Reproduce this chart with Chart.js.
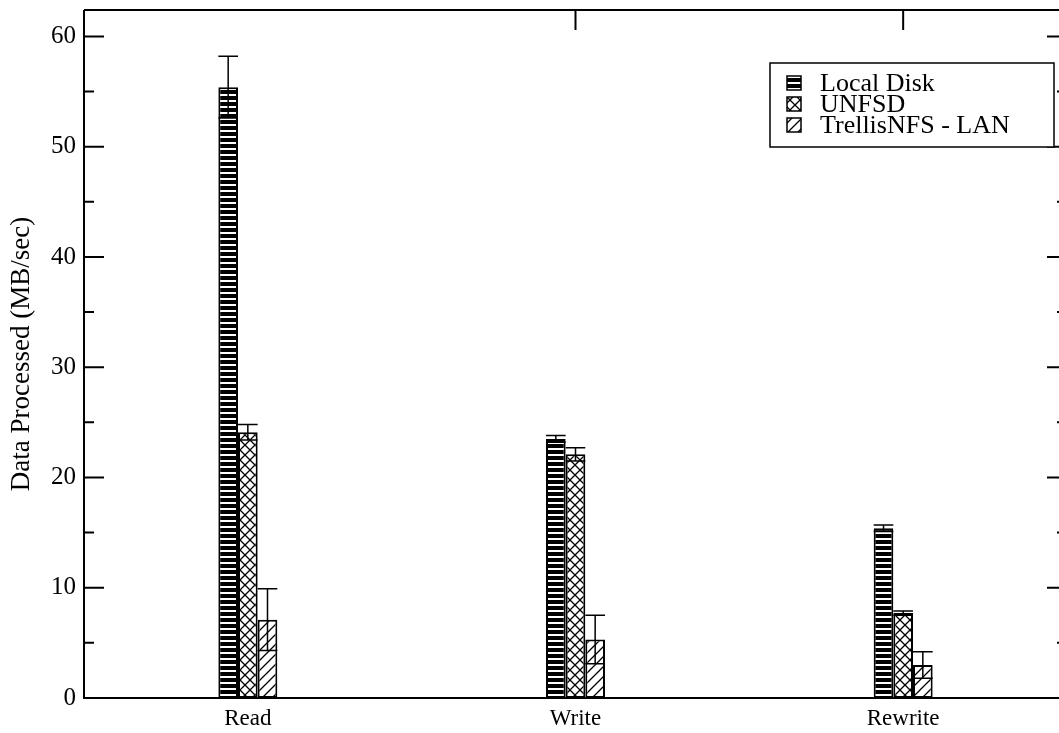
<!DOCTYPE html>
<html>
<head>
<meta charset="utf-8">
<script src="https://cdn.jsdelivr.net/npm/chart.js@4.4.1/dist/chart.umd.min.js"></script>
<style>
html, body { margin: 0; background: #fff; overflow: hidden; }
</style>
</head>
<body>
<!-- plot frame runs a little past the right edge of the window, as in the scan -->
<canvas id="benchChart" width="1067" height="733"></canvas>
<script>
// values (MB/sec), errors are +/- half ranges
const categories = ['Read', 'Write', 'Rewrite'];
const seriesNames = ['Local Disk', 'UNFSD', 'TrellisNFS - LAN'];
const localDisk = [55.4, 23.5, 15.4];
const localDiskErr = [2.8, 0.3, 0.3];
const unfsd = [24.1, 22.1, 7.7];
const unfsdErr = [0.7, 0.6, 0.2];
const trellis = [7.1, 5.3, 3.0];
const trellisErr = [2.8, 2.2, 1.2];
const yTicks = [0, 10, 20, 30, 40, 50, 60];
const yMax = 62.4;

const FONT = 'Liberation Serif';
const ctx = document.getElementById('benchChart');

function makePattern(kind) {
    const c = document.createElement('canvas');
    const s = kind === 'stripes' ? 6 : 10;
    c.width = s;
    c.height = s;
    const g = c.getContext('2d');
    g.fillStyle = '#fff';
    g.fillRect(0, 0, s, s);
    g.strokeStyle = '#000';
    g.fillStyle = '#000';
    g.lineWidth = 1.3;
    if (kind === 'stripes') {
        g.fillRect(0, 0, s, 4);
    } else if (kind === 'cross') {
        g.beginPath();
        g.moveTo(0, 0); g.lineTo(s, s);
        g.moveTo(s, 0); g.lineTo(0, s);
        g.stroke();
    } else {
        g.beginPath();
        g.moveTo(0, s); g.lineTo(s, 0);
        g.moveTo(-1, 1); g.lineTo(1, -1);
        g.moveTo(s - 1, s + 1); g.lineTo(s + 1, s - 1);
        g.stroke();
    }
    return g.createPattern(c, 'repeat');
}

//error bars: line from low to high with a cap at each end
const errorBars = {
    id: 'errorBars',
    afterDatasetsDraw(chart) {
        const c = chart.ctx;
        const y = chart.scales.y;
        c.save();
        c.strokeStyle = '#000';
        c.lineWidth = 1.5;
        chart.data.datasets.forEach((ds, i) => {
            chart.getDatasetMeta(i).data.forEach((bar, j) => {
                const v = ds.data[j];
                const e = ds.errors[j];
                const hi = y.getPixelForValue(v + e);
                const lo = y.getPixelForValue(v - e);
                const half = bar.width / 2;
                c.beginPath();
                c.moveTo(bar.x, lo); c.lineTo(bar.x, hi);
                c.moveTo(bar.x - half, hi); c.lineTo(bar.x + half, hi);
                c.moveTo(bar.x - half, lo); c.lineTo(bar.x + half, lo);
                c.stroke();
            });
        });
        c.restore();
    }
};

//box round the plot with ticks pointing inward
const frame = {
    id: 'frame',
    afterDatasetsDraw(chart) {
        const c = chart.ctx;
        const a = chart.chartArea;
        const { x, y } = chart.scales;
        c.save();
        c.strokeStyle = '#000';
        c.lineWidth = 2;
        c.beginPath();
        c.moveTo(a.left, a.top); c.lineTo(a.left, a.bottom); c.lineTo(a.right, a.bottom);
        c.moveTo(a.left, a.top); c.lineTo(a.right, a.top);
        yTicks.forEach((v, i) => {
            const py = y.getPixelForValue(v);
            c.moveTo(a.left, py); c.lineTo(a.left + 20, py);
            c.moveTo(a.right, py); c.lineTo(a.right - 20, py);
            if (i < yTicks.length - 1) {
                const pm = y.getPixelForValue((v + yTicks[i + 1]) / 2);
                c.moveTo(a.left, pm); c.lineTo(a.left + 10, pm);
                c.moveTo(a.right, pm); c.lineTo(a.right - 10, pm);
            }
        });
        for (let i = 1; i < categories.length; i++) {
            const px = x.getPixelForValue(i);
            c.moveTo(px, a.top); c.lineTo(px, a.top + 20);
        }
        c.stroke();
        c.restore();
    }
};

//legend box inside the plot, top right
const boxLegend = {
    id: 'boxLegend',
    afterDraw(chart) {
        const c = chart.ctx;
        const a = chart.chartArea;
        const x0 = a.right - 297;
        const y0 = a.top + 53;
        c.save();
        c.fillStyle = '#fff';
        c.fillRect(x0, y0, 284, 84);
        c.strokeStyle = '#000';
        c.lineWidth = 1.5;
        c.strokeRect(x0, y0, 284, 84);
        c.font = '26px "' + FONT + '"';
        c.textBaseline = 'middle';
        chart.data.datasets.forEach((ds, i) => {
            const cy = y0 + 20 + i * 21;
            c.fillStyle = ds.backgroundColor;
            c.fillRect(x0 + 17, cy - 7, 14, 14);
            c.strokeRect(x0 + 17, cy - 7, 14, 14);
            c.fillStyle = '#000';
            c.fillText(ds.label, x0 + 50, cy + 1);
        });
        c.restore();
    }
};

const benchChart = new Chart(ctx, {
    type: 'bar',
    data: {
        labels: categories,
        datasets: [
            { label: seriesNames[0], data: localDisk, errors: localDiskErr, backgroundColor: makePattern('stripes') },
            { label: seriesNames[1], data: unfsd, errors: unfsdErr, backgroundColor: makePattern('cross') },
            { label: seriesNames[2], data: trellis, errors: trellisErr, backgroundColor: makePattern('diag') },
        ].map(ds => Object.assign(ds, {
            borderColor: '#000',
            borderWidth: 2,
            borderSkipped: false,
            categoryPercentage: 0.18,
            barPercentage: 1,
        })),
    },
    options: {
        responsive: false,
        animation: false,
        layout: {
            padding: { top: 10, right: 0, bottom: 0, left: 0 }
        },
        plugins: {
            legend: { display: false },
            tooltip: { enabled: false },
        },
        scales: {
            x: {
                grid: { display: false, drawTicks: false },
                border: { display: false },
                ticks: { color: '#000', font: { family: FONT, size: 23 }, padding: 7 },
                afterFit: s => { s.height = 35; s.paddingLeft = 0; s.paddingRight = 0; },
            },
            y: {
                min: 0,
                max: yMax,
                grid: { display: false, drawTicks: false },
                border: { display: false },
                ticks: { color: '#000', font: { family: FONT, size: 25 }, padding: 8 },
                afterBuildTicks: s => { s.ticks = yTicks.map(v => ({ value: v })); },
                afterFit: s => { s.width = 84; s.paddingTop = 0; s.paddingBottom = 0; },
                title: {
                    display: true,
                    text: 'Data Processed (MB/sec)',
                    color: '#000',
                    font: { family: FONT, size: 27 },
                    padding: { top: 6, bottom: 0 },
                },
            },
        },
    },
    plugins: [frame, errorBars, boxLegend],
});
</script>
</body>
</html>
